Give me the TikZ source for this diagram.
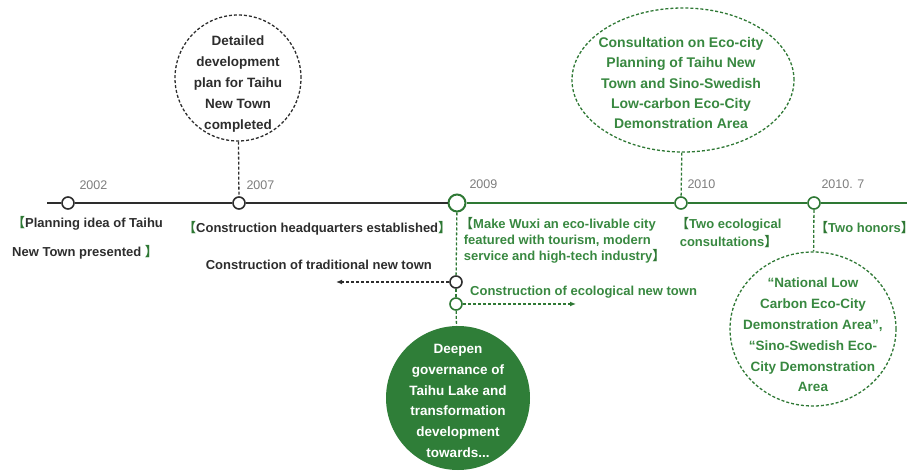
\documentclass[tikz,border=0pt]{standalone}
\usepackage{fontspec}
\setmainfont{Liberation Sans}
\newfontfamily\cjk{Noto Sans CJK SC}
\usetikzlibrary{arrows.meta,positioning,shapes.geometric}

\definecolor{tlgreen}{RGB}{46,120,52}
\definecolor{txtgreen}{RGB}{56,136,64}
\definecolor{fillgreen}{RGB}{47,126,56}
\definecolor{yeargray}{RGB}{125,125,125}
\definecolor{tlblack}{RGB}{45,45,45}
\newcommand{\openbr}{{\color{tlgreen}\cjk 【}}
\newcommand{\closebr}{{\color{tlgreen}\cjk 】}}

\begin{document}
\begin{tikzpicture}[x=1pt,y=-1pt,
  font=\fontsize{13}{15}\selectfont\bfseries,
  dot/.style={circle,draw=tlblack,line width=1.6pt,fill=white,inner sep=0pt,minimum size=12pt},
  gdot/.style={dot,draw=tlgreen},
  year/.style={anchor=west,text=yeargray,font=\fontsize{12.5}{14}\selectfont},
  lbl/.style={align=left,inner sep=0pt,text=tlblack},
  glbl/.style={lbl,text=txtgreen},
  bubble/.style={draw,dashed,dash pattern=on 3pt off 2pt,line width=1.3pt,inner sep=0pt},
  btext/.style={align=center,inner sep=0pt,font=\fontsize{13.5}{20.8}\selectfont\bfseries},
  blackline/.style={draw=tlblack,line width=2.6pt},
  greenline/.style={draw=tlgreen,line width=2.6pt},
  vdash/.style={dashed,dash pattern=on 3pt off 2pt,line width=1.3pt},
  flow/.style={vdash,-{Latex[length=6pt,width=5pt]}}
]
\useasboundingbox (0,0) rectangle (914,473);

% timeline points
\coordinate (tlstart) at (47,203);
\coordinate (tlend) at (907,203);
\node[dot] (d2002) at (68,203) {};
\node[dot] (d2007) at (239,203) {};
\node[gdot,minimum size=17pt,line width=2pt] (d2009) at (457,203) {};
\node[gdot] (d2010) at (681,203) {};
\node[gdot] (d2010b) at (814,203) {};

\draw[blackline] (tlstart) -- (d2002) -- (d2007) -- (d2009);
\draw[greenline] (d2009) -- (d2010) -- (d2010b) -- (tlend);

% years
\node[year] (y2002) at (76,185) {2002};
\node[year] (y2007) at (243,185) {2007};
\node[year] (y2009) at (466,184) {2009};
\node[year] (y2010) at (684,184) {2010};
\node[year] (y2010b) at (818,184) {2010. 7};

% labels under the line
\node[lbl,anchor=north west,font=\fontsize{13}{29}\selectfont\bfseries] (lplan) at (12,216)
  {\openbr Planning idea of Taihu\\New Town presented \closebr};
\node[lbl,anchor=west] (lhq) at (183,228) {\openbr Construction headquarters established\closebr};
\node[glbl,anchor=north west,font=\fontsize{13}{16}\selectfont\bfseries] (lwuxi) at (460,217)
  {\openbr Make Wuxi an eco-livable city\\\ featured with tourism, modern\\\ service and high-tech industry\closebr};
\node[glbl,anchor=north west,font=\fontsize{13}{18}\selectfont\bfseries] (ltwo) at (676,217)
  {\openbr Two ecological\\\ consultations\closebr};
\node[glbl,anchor=west] (lhon) at (815,228) {\openbr Two honors\closebr};

% two directions after 2009
\node[dot] (dtrad) at (456,282) {};
\node[gdot] (deco) at (456,304) {};
\node[lbl,anchor=east] (ltrad) at (432,265) {Construction of traditional new town};
\node[glbl,anchor=west] (leco) at (470,292) {Construction of ecological new town};
\coordinate (tradend) at (336,282);
\coordinate (ecoend) at (576,304);
\draw[flow,tlblack] (dtrad) -- (tradend);
\draw[flow,tlgreen] (deco) -- (ecoend);

% bubbles
\node[bubble,circle,draw=tlblack,minimum size=126pt] (bub2007) at (238,78) {};
\node[btext,text=tlblack] (t2007) at (238,84)
  {Detailed\\development\\plan for Taihu\\New Town\\completed};
\node[bubble,ellipse,draw=tlgreen,minimum width=222pt,minimum height=144pt] (bub2010) at (683,80) {};
\node[btext,text=txtgreen,font=\fontsize{14}{20.3}\selectfont\bfseries] (t2010) at (681,83)
  {Consultation on Eco-city\\Planning of Taihu New\\Town and Sino-Swedish\\Low-carbon Eco-City\\Demonstration Area};
\node[bubble,ellipse,draw=tlgreen,minimum width=166pt,minimum height=154pt] (bubhon) at (813,329) {};
\node[btext,text=txtgreen] (thon) at (813,335)
  {``National Low\\Carbon Eco-City\\Demonstration Area'',\\``Sino-Swedish Eco-\\City Demonstration\\Area};
\node[circle,fill=fillgreen,minimum size=144pt,inner sep=0pt] (deepen) at (458,398) {};
\node[btext,text=white] (tdeep) at (458,401)
  {Deepen\\governance of\\Taihu Lake and\\transformation\\development\\towards...};

% dashed links
\draw[vdash,tlblack] (bub2007) -- (d2007);
\draw[vdash,tlgreen] (bub2010) -- (d2010);
\draw[vdash,tlgreen] (d2010b) -- (bubhon);
\draw[vdash,tlgreen] (d2009) -- (dtrad);
\draw[vdash,tlgreen] (dtrad) -- (deco);
\draw[vdash,tlgreen] (deco) -- (deepen);
\end{tikzpicture}
\end{document}
